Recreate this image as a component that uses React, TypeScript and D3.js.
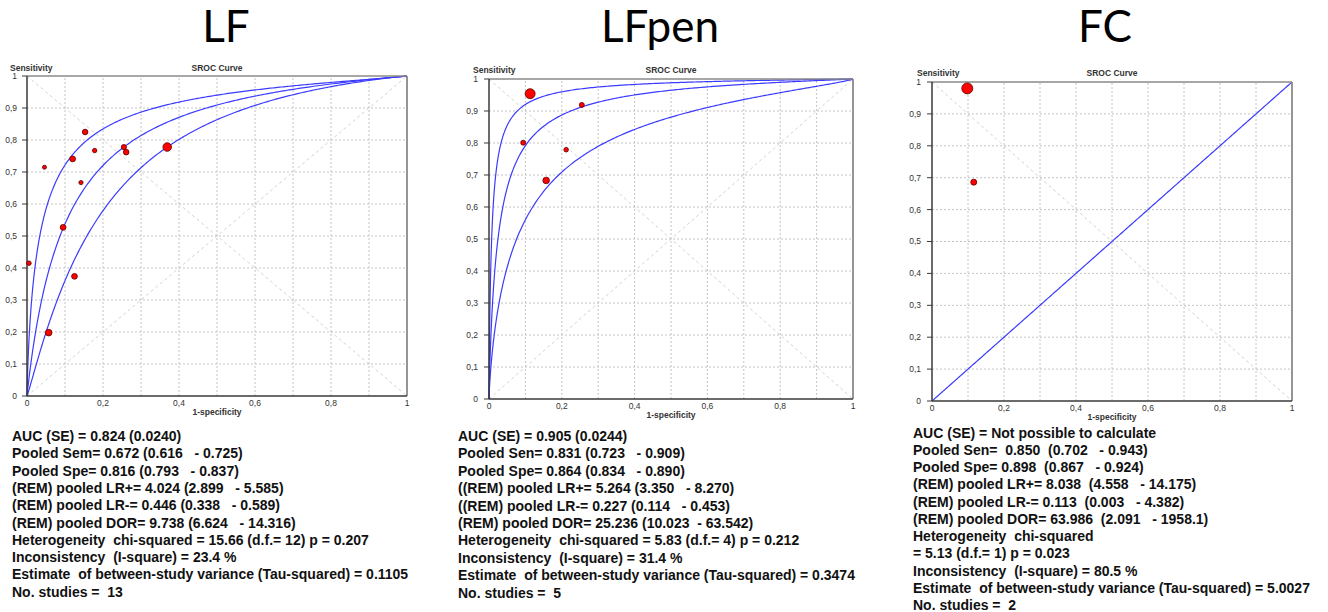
import React from "react";
import * as d3 from "d3";

// ---- Study points: 1-specificity (x), sensitivity (y), study weight ----
const lfFpr = [0.153, 0.046, 0.12, 0.178, 0.255, 0.261, 0.369, 0.142, 0.095, 0.005, 0.125, 0.057];
const lfSens = [0.825, 0.715, 0.741, 0.767, 0.778, 0.762, 0.778, 0.667, 0.527, 0.415, 0.374, 0.198];
const lfWeight = [78, 40, 83, 48, 67, 78, 183, 44, 83, 52, 83, 108];

const lfpenFpr = [0.113, 0.255, 0.094, 0.212, 0.157];
const lfpenSens = [0.954, 0.919, 0.801, 0.779, 0.683];
const lfpenWeight = [248, 62, 62, 52, 108];

const fcFpr = [0.098, 0.116];
const fcSens = [0.98, 0.686];
const fcWeight = [300, 89];

// ---- SROC curves: logit(sens) = intercept + slope * logit(1-spec) ----
const lfCurveIntercept = [2.755, 2.305, 1.844];
const lfCurveSlope = [0.82, 0.98, 1.1];
const lfpenCurveIntercept = [4.425, 3.313, 2.0];
const lfpenCurveSlope = [0.9, 0.9, 0.8];
const fcCurveIntercept = [0];
const fcCurveSlope = [1];

// ---- Titles and summary statistics ----
const panelTitles = ["LF", "LFpen", "FC"];

const lfStats = [
  "AUC (SE) = 0.824 (0.0240)",
  "Pooled Sem= 0.672 (0.616   - 0.725)",
  "Pooled Spe= 0.816 (0.793   - 0.837)",
  "(REM) pooled LR+= 4.024 (2.899   - 5.585)",
  "(REM) pooled LR-= 0.446 (0.338   - 0.589)",
  "(REM) pooled DOR= 9.738 (6.624   - 14.316)",
  "Heterogeneity  chi-squared = 15.66 (d.f.= 12) p = 0.207",
  "Inconsistency  (I-square) = 23.4 %",
  "Estimate  of between-study variance (Tau-squared) = 0.1105",
  "No. studies =  13",
];
const lfpenStats = [
  "AUC (SE) = 0.905 (0.0244)",
  "Pooled Sen= 0.831 (0.723   - 0.909)",
  "Pooled Spe= 0.864 (0.834   - 0.890)",
  "((REM) pooled LR+= 5.264 (3.350   - 8.270)",
  "((REM) pooled LR-= 0.227 (0.114   - 0.453)",
  "(REM) pooled DOR= 25.236 (10.023  - 63.542)",
  "Heterogeneity  chi-squared = 5.83 (d.f.= 4) p = 0.212",
  "Inconsistency  (I-square) = 31.4 %",
  "Estimate  of between-study variance (Tau-squared) = 0.3474",
  "No. studies =  5",
];
const fcStats = [
  "AUC (SE) = Not possible to calculate",
  "Pooled Sen=  0.850  (0.702   - 0.943)",
  "Pooled Spe= 0.898  (0.867   - 0.924)",
  "(REM) pooled LR+= 8.038  (4.558   - 14.175)",
  "(REM) pooled LR-= 0.113  (0.003   - 4.382)",
  "(REM) pooled DOR= 63.986  (2.091   - 1958.1)",
  "Heterogeneity  chi-squared",
  "= 5.13 (d.f.= 1) p = 0.023",
  "Inconsistency  (I-square) = 80.5 %",
  "Estimate  of between-study variance (Tau-squared) = 5.0027",
  "No. studies =  2",
];

const gridTicks = d3.range(0, 11).map((i) => i / 10);
const xLabelTicks = [0, 0.2, 0.4, 0.6, 0.8, 1];

const fmtTick = (v: number) =>
  v === 0 ? "0" : v === 1 ? "1" : d3.format(".1f")(v).replace(".", ",");

const radius = d3.scaleSqrt().domain([0, 300]).range([0, 5.5]);

const logit = (p: number) => Math.log(p / (1 - p));
const expit = (z: number) => 1 / (1 + Math.exp(-z));

// fpr samples, dense near the origin where the curves rise steeply
const fprSamples = [
  ...d3.range(-5, -1, 0.02).map((e) => Math.pow(10, e)),
  ...d3.range(0.1, 0.9999, 0.005),
  0.9999,
];

type PanelProps = {
  left: number;
  top: number;
  right: number;
  bottom: number;
  fpr: number[];
  sens: number[];
  weight: number[];
  intercepts: number[];
  slopes: number[];
  yLabelGap: number;
  xLabelGap: number;
  headerGap: number;
  sensX: number;
};

function SrocPanel(p: PanelProps) {
  const x = d3.scaleLinear().domain([0, 1]).range([p.left, p.right]);
  const y = d3.scaleLinear().domain([0, 1]).range([p.bottom, p.top]);
  const line = d3
    .line<[number, number]>()
    .x((d) => x(d[0]))
    .y((d) => y(d[1]));

  const curves = p.intercepts.map((a, i) => {
    const b = p.slopes[i];
    const pts: [number, number][] = [[0, 0]];
    fprSamples.forEach((f) => pts.push([f, expit(a + b * logit(f))]));
    pts.push([1, 1]);
    return line(pts) as string;
  });

  const order = d3.range(p.fpr.length).sort((i, j) => p.weight[j] - p.weight[i]);
  const axisFont = "'Liberation Sans', Arial, sans-serif";

  return (
    <g>
      {/* grid */}
      {gridTicks.slice(1, 10).map((t) => (
        <g key={"g" + t}>
          <line x1={x(t)} x2={x(t)} y1={y(0)} y2={y(1)} stroke="#c4c4c4" strokeWidth={1} strokeDasharray="2,2" />
          <line x1={x(0)} x2={x(1)} y1={y(t)} y2={y(t)} stroke="#c4c4c4" strokeWidth={1} strokeDasharray="2,2" />
        </g>
      ))}
      {/* reference diagonals */}
      <line x1={x(0)} y1={y(1)} x2={x(1)} y2={y(0)} stroke="#d2d2d2" strokeWidth={1} strokeDasharray="3,3" />
      <line x1={x(0)} y1={y(0)} x2={x(1)} y2={y(1)} stroke="#d2d2d2" strokeWidth={1} strokeDasharray="3,3" />
      {/* SROC curves */}
      {curves.map((d, i) => (
        <path key={"c" + i} d={d} fill="none" stroke="#3b3bff" strokeWidth={1.2} />
      ))}
      {/* frame */}
      <line x1={x(0)} x2={x(1)} y1={y(1)} y2={y(1)} stroke="#8a8a8a" strokeWidth={1.5} />
      <line x1={x(1)} x2={x(1)} y1={y(0)} y2={y(1)} stroke="#8a8a8a" strokeWidth={1.8} />
      <line x1={x(0)} x2={x(0)} y1={y(0)} y2={y(1)} stroke="#3a3a3a" strokeWidth={1.5} />
      <line x1={x(0)} x2={x(1)} y1={y(0)} y2={y(0)} stroke="#3a3a3a" strokeWidth={1.5} />
      {/* study points */}
      {order.map((i) => (
        <circle
          key={"p" + i}
          cx={x(p.fpr[i])}
          cy={y(p.sens[i])}
          r={radius(p.weight[i])}
          fill="#ff0000"
          stroke="#5a0000"
          strokeWidth={0.8}
        />
      ))}
      {/* y axis ticks + labels */}
      {gridTicks.map((t) => (
        <g key={"y" + t}>
          <line x1={x(0) - 5} x2={x(0)} y1={y(t)} y2={y(t)} stroke="#3a3a3a" strokeWidth={1} />
          <text
            x={x(0) - p.yLabelGap}
            y={y(t)}
            dy="0.35em"
            textAnchor="end"
            fontFamily={axisFont}
            fontSize={8.5}
            fill="#333"
          >
            {fmtTick(t)}
          </text>
        </g>
      ))}
      {/* x axis labels */}
      {xLabelTicks.map((t) => (
        <text
          key={"x" + t}
          x={x(t)}
          y={y(0) + p.xLabelGap}
          textAnchor="middle"
          fontFamily={axisFont}
          fontSize={8.5}
          fill="#333"
        >
          {fmtTick(t)}
        </text>
      ))}
      <text x={p.sensX} y={y(1) - p.headerGap} fontFamily={axisFont} fontSize={8.5} fontWeight="bold" fill="#333">
        Sensitivity
      </text>
      <text
        x={(x(0) + x(1)) / 2}
        y={y(1) - p.headerGap}
        textAnchor="middle"
        fontFamily={axisFont}
        fontSize={8.5}
        fontWeight="bold"
        fill="#333"
      >
        SROC Curve
      </text>
      <text
        x={(x(0) + x(1)) / 2}
        y={y(0) + 19}
        textAnchor="middle"
        fontFamily={axisFont}
        fontSize={8.5}
        fontWeight="bold"
        fill="#333"
      >
        1-specificity
      </text>
    </g>
  );
}

function StatsBlock({ lines, x, y, step }: { lines: string[]; x: number; y: number; step: number }) {
  return (
    <g>
      {lines.map((s, i) => (
        <text
          key={i}
          x={x}
          y={y + i * step}
          fontFamily="'Liberation Sans', Arial, sans-serif"
          fontSize={14}
          fontWeight="bold"
          fill="#111"
          style={{ whiteSpace: "pre" }}
        >
          {s}
        </text>
      ))}
    </g>
  );
}

export default function App() {
  const titleFont = "Lato, 'Open Sans', sans-serif";
  return (
    <svg
      width={1328}
      height={612}
      style={{ position: "absolute", left: 0, top: 0, background: "#fff" }}
    >
      <rect width={1328} height={612} fill="#fff" />
      {[226, 660, 1105].map((cx, i) => (
        <text key={i} x={cx} y={42} textAnchor="middle" fontFamily={titleFont} fontSize={44} fill="#000">
          {panelTitles[i]}
        </text>
      ))}

      <SrocPanel
        left={27}
        top={76}
        right={407}
        bottom={396}
        fpr={lfFpr}
        sens={lfSens}
        weight={lfWeight}
        intercepts={lfCurveIntercept}
        slopes={lfCurveSlope}
        yLabelGap={10}
        xLabelGap={10}
        headerGap={5}
        sensX={10}
      />
      <SrocPanel
        left={489}
        top={79}
        right={853}
        bottom={399}
        fpr={lfpenFpr}
        sens={lfpenSens}
        weight={lfpenWeight}
        intercepts={lfpenCurveIntercept}
        slopes={lfpenCurveSlope}
        yLabelGap={11}
        xLabelGap={10}
        headerGap={6}
        sensX={473}
      />
      <SrocPanel
        left={932}
        top={82}
        right={1292}
        bottom={401}
        fpr={fcFpr}
        sens={fcSens}
        weight={fcWeight}
        intercepts={fcCurveIntercept}
        slopes={fcCurveSlope}
        yLabelGap={11}
        xLabelGap={10}
        headerGap={6}
        sensX={917}
      />

      <StatsBlock lines={lfStats} x={12} y={441} step={17.3} />
      <StatsBlock lines={lfpenStats} x={458} y={441} step={17.4} />
      <StatsBlock lines={fcStats} x={913} y={437.5} step={17.25} />
    </svg>
  );
}
